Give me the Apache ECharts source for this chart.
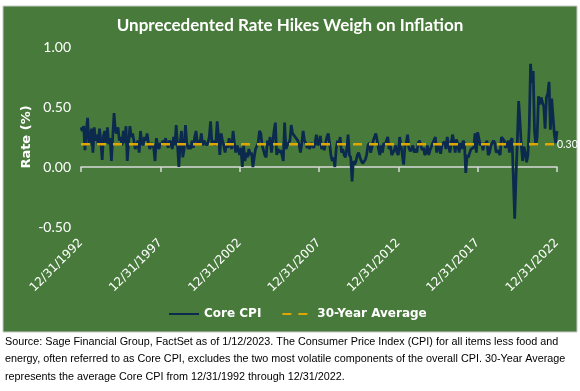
<!DOCTYPE html>
<html>
<head>
<meta charset="utf-8">
<script src="https://cdn.jsdelivr.net/npm/echarts@6/dist/echarts.min.js"></script>
<style>
html,body{margin:0;padding:0;background:#fff;}
#chart{width:580px;height:391px;}
</style>
</head>
<body>
<div id="chart"></div>
<script>
// ---- data (monthly Core CPI, % change, Dec 1992 .. Dec 2022) ----
const startValue = [0.33]; // Dec 1992
const cpi1993 = [0.30,0.34,0.14,0.30,0.41,0.18,0.25,0.32,0.12,0.33,0.22,0.27];
const cpi1994 = [0.18,0.32,0.22,0.06,0.26,0.30,0.20,0.33,0.19,0.24,0.05,0.25];
const cpi1995 = [0.45,0.30,0.28,0.33,0.22,0.25,0.18,0.30,0.20,0.34,0.05,0.20];
const cpi1996 = [0.34,0.25,0.28,0.22,0.15,0.18,0.22,0.12,0.30,0.20,0.18,0.25];
const cpi1997 = [0.22,0.28,0.20,0.15,0.18,0.20,0.16,0.05,0.24,0.18,0.15,0.20];
const cpi1998 = [0.18,0.22,0.20,0.24,0.19,0.16,0.22,0.20,0.15,0.25,0.18,0.35];
const cpi1999 = [0.18,0.00,0.20,0.30,0.08,0.15,0.35,0.20,0.15,0.18,0.15,0.22];
const cpi2000 = [0.16,0.25,0.30,0.20,0.22,0.20,0.28,0.18,0.22,0.20,0.18,0.20];
const cpi2001 = [0.25,0.38,0.20,0.22,0.18,0.20,0.38,0.25,0.10,0.28,0.22,0.18];
const cpi2002 = [0.12,0.20,0.16,0.24,0.18,0.15,0.30,0.20,0.12,0.18,0.14,0.10];
const cpi2003 = [0.16,0.00,0.18,0.05,0.12,0.08,0.15,0.10,0.12,0.00,0.08,0.15];
const cpi2004 = [0.15,0.20,0.30,0.28,0.18,0.14,0.10,0.08,0.22,0.18,0.25,0.12];
const cpi2005 = [0.20,0.30,0.37,0.10,0.15,0.12,0.14,0.10,0.05,0.37,0.15,0.18];
const cpi2006 = [0.20,0.22,0.35,0.28,0.27,0.25,0.24,0.22,0.18,0.12,0.20,0.30];
const cpi2007 = [0.22,0.20,0.16,0.18,0.15,0.20,0.18,0.16,0.20,0.27,0.18,0.20];
const cpi2008 = [0.26,0.15,0.18,0.14,0.20,0.25,0.28,0.20,0.10,0.05,0.08,0.00];
const cpi2009 = [0.15,0.22,0.18,0.25,0.12,0.15,0.10,0.08,0.15,0.27,0.10,0.08];
const cpi2010 = [-0.12,0.05,0.02,0.05,0.10,0.12,0.08,0.05,0.03,0.02,0.06,0.10];
const cpi2011 = [0.18,0.20,0.12,0.16,0.22,0.25,0.28,0.22,0.15,0.10,0.18,0.12];
const cpi2012 = [0.20,0.18,0.22,0.25,0.15,0.18,0.10,0.12,0.14,0.18,0.12,0.10];
const cpi2013 = [0.25,0.18,0.10,0.02,0.18,0.20,0.27,0.16,0.13,0.15,0.18,0.12];
const cpi2014 = [0.15,0.12,0.20,0.22,0.18,0.14,0.16,0.10,0.12,0.18,0.10,0.14];
const cpi2015 = [0.15,0.20,0.19,0.25,0.12,0.18,0.16,0.11,0.19,0.20,0.21,0.15];
const cpi2016 = [0.25,0.24,0.12,0.20,0.27,0.21,0.12,0.23,0.18,0.12,0.20,0.15];
const cpi2017 = [0.22,0.20,-0.05,0.10,0.08,0.12,0.15,0.14,0.16,0.28,0.12,0.29];
const cpi2018 = [0.30,0.18,0.20,0.14,0.20,0.18,0.22,0.10,0.12,0.18,0.20,0.22];
const cpi2019 = [0.20,0.12,0.14,0.15,0.10,0.25,0.26,0.22,0.16,0.18,0.22,0.12];
const cpi2020 = [0.22,0.24,-0.10,-0.43,-0.08,0.22,0.55,0.38,0.18,0.05,0.17,0.12];
const cpi2021 = [0.04,0.10,0.33,0.86,0.70,0.80,0.30,0.18,0.25,0.59,0.52,0.58];
const cpi2022 = [0.58,0.50,0.32,0.58,0.61,0.71,0.31,0.57,0.58,0.27,0.20,0.30];
const thirtyYearAverage = 0.19;
const yTicks = [-0.5, 0, 0.5, 1.0];

const coreCPI = [].concat(startValue, cpi1993, cpi1994, cpi1995, cpi1996, cpi1997, cpi1998,
  cpi1999, cpi2000, cpi2001, cpi2002, cpi2003, cpi2004, cpi2005, cpi2006, cpi2007, cpi2008,
  cpi2009, cpi2010, cpi2011, cpi2012, cpi2013, cpi2014, cpi2015, cpi2016, cpi2017, cpi2018,
  cpi2019, cpi2020, cpi2021, cpi2022);

// month-end date categories
const categories = [];
for (let i = 0; i < coreCPI.length; i++) {
  const y = 1992 + Math.floor((11 + i) / 12);
  const m = (11 + i) % 12; // 0-based
  const d = new Date(Date.UTC(y, m + 1, 0)).getUTCDate();
  categories.push((m + 1) + '/' + d + '/' + y);
}
const last = coreCPI.length - 1;
const avgData = categories.map(() => thirtyYearAverage);

const chart = echarts.init(document.getElementById('chart'), null, { renderer: 'canvas' });
const white = '#FFFFFF';
chart.setOption({
  animation: false,
  backgroundColor: '#FFFFFF',
  graphic: [
    { type: 'rect', z: -10, shape: { x: 3, y: 6, width: 574, height: 326 },
      style: { fill: '#487B3B', stroke: '#C8C8C8', lineWidth: 1 } },
    { type: 'text', left: 5, top: 333, style: {
        text: 'Source: Sage Financial Group, FactSet as of 1/12/2023. The Consumer Price Index (CPI) for all items less food and\nenergy, often referred to as Core CPI, excludes the two most volatile components of the overall CPI. 30-Year Average\nrepresents the average Core CPI from 12/31/1992 through 12/31/2022.',
        fill: '#000000', font: '10.8px "Liberation Sans"', lineHeight: 17.5 } }
  ],
  title: {
    text: 'Unprecedented Rate Hikes Weigh on Inflation',
    left: 'center', top: 12,
    textStyle: { color: white, fontFamily: 'Lato', fontWeight: 'bold', fontSize: 17 }
  },
  legend: {
    left: 168, top: 308, padding: 0,
    itemWidth: 30, itemHeight: 12, itemGap: 20,
    itemStyle: { opacity: 0 },
    textStyle: { color: white, fontFamily: 'DejaVu Sans', fontWeight: 'bold', fontSize: 12 },
    data: ['Core CPI', '30-Year Average']
  },
  grid: { left: 81, right: 23, top: 47, bottom: 164, containLabel: false },
  xAxis: [
    {
      type: 'category', data: categories, boundaryGap: false,
      axisLine: { onZero: true, lineStyle: { color: '#D9D9D9', width: 1.5 } },
      axisTick: { show: true, interval: 59, length: 5, lineStyle: { color: '#D9D9D9', width: 1.5 } },
      axisLabel: { show: false },
      splitLine: { show: false }
    },
    {
      type: 'category', data: categories, boundaryGap: false, position: 'bottom',
      axisLine: { show: false, onZero: false },
      axisTick: { show: false },
      axisLabel: { show: true, interval: 59, rotate: 45, margin: 14,
        color: white, fontFamily: 'DejaVu Sans', fontSize: 12 },
      splitLine: { show: false }
    }
  ],
  yAxis: {
    type: 'value', min: yTicks[0], max: yTicks[yTicks.length - 1], interval: 0.5,
    name: 'Rate (%)', nameLocation: 'middle', nameGap: 48, nameMoveOverlap: false,
    nameTextStyle: { color: white, fontFamily: 'DejaVu Sans', fontWeight: 'bold', fontSize: 13 },
    axisLine: { show: false }, axisTick: { show: false }, splitLine: { show: false },
    axisLabel: { color: white, fontFamily: 'Lato', fontSize: 14, margin: 10,
      formatter: v => v.toFixed(2) }
  },
  series: [
    {
      name: 'Core CPI', type: 'line', data: coreCPI, xAxisIndex: 0,
      showSymbol: false, symbol: 'none',
      lineStyle: { color: '#0C2A4D', width: 2.75 },
      itemStyle: { color: '#0C2A4D' }
    },
    {
      name: '30-Year Average', type: 'line', data: avgData, xAxisIndex: 0,
      showSymbol: false, symbol: 'none',
      lineStyle: { color: '#E0A600', width: 2.5, type: [9, 7] },
      itemStyle: { color: '#E0A600' },
      endLabel: { show: true, distance: 0, color: white,
        fontFamily: 'Lato', fontSize: 10.5,
        formatter: () => coreCPI[last].toFixed(2) }
    }
  ]
});
</script>
</body>
</html>
